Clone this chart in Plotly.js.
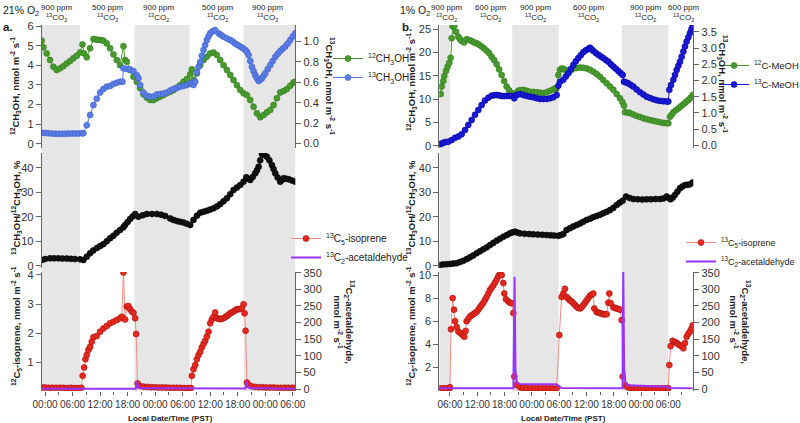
<!DOCTYPE html>
<html><head><meta charset="utf-8">
<script src="https://cdn.plot.ly/plotly-3.0.1.min.js"></script>
<style>html,body{margin:0;padding:0;background:#fff;overflow:hidden;width:800px;height:423px}#chart{width:840px;height:423px}</style>
</head><body><div id="chart"></div>
<script>
// ---------- Panel a (21% O2): hours relative to day-0 00:00 ----------
const aT_m12 = [-0.73,-0.36,0.36,1.09,1.82,2.55,3.27,4.0,4.73,5.45,6.18,6.91,7.64,8.15,8.51,9.09,9.82,10.55,11.1,11.64,12.2,12.73,13.45,14.18,14.91,15.64,16.36,17.09,17.45,17.82,18.55,19.27,20.0,20.73,21.45,22.18,22.91,23.64,24.36,25.09,25.8,26.55,27.3,28.0,28.7,29.45,30.18,30.91,31.64,32.0,32.36,33.09,33.82,34.55,35.27,36.0,36.73,37.45,38.18,38.91,39.64,40.36,41.09,41.82,42.55,43.27,44.0,44.73,45.45,46.18,46.91,47.64,48.36,49.09,49.82,50.55,51.27,52.0,52.73,53.45,54.18,54.55];
const aY_m12 = [5.26,4.92,4.61,4.27,3.93,3.76,3.85,3.96,4.10,4.22,4.36,4.49,4.66,5.07,4.61,4.41,4.87,5.34,5.32,5.30,5.29,5.26,5.12,4.87,4.56,4.27,4.01,4.98,4.27,4.18,3.76,3.42,3.16,2.83,2.52,2.35,2.23,2.23,2.32,2.40,2.48,2.57,2.65,2.74,2.86,2.99,3.16,3.30,3.54,3.80,3.25,3.59,4.01,4.27,4.44,4.61,4.66,4.53,4.27,4.01,3.76,3.51,3.25,2.99,2.74,2.57,2.48,2.23,1.89,1.55,1.35,1.46,1.60,1.72,1.97,2.32,2.62,2.69,2.79,2.96,3.13,3.16];
const aT_m13 = [-0.73,0.0,0.73,1.45,2.18,2.9,3.64,4.36,5.09,5.82,6.55,7.27,8.0,8.36,9.09,9.82,10.55,11.27,12.0,12.73,13.45,14.18,14.91,15.64,16.36,16.87,17.09,17.82,18.55,19.27,20.0,20.36,20.73,21.45,22.18,22.91,23.64,24.36,25.09,25.8,26.55,27.3,28.0,28.7,29.45,30.18,30.91,31.64,32.0,32.36,32.73,33.09,33.45,33.82,34.18,34.55,34.91,35.27,35.64,36.0,36.55,37.09,37.82,38.36,38.91,39.64,40.36,40.9,41.45,42.0,42.55,43.1,43.64,44.0,44.36,44.73,45.09,45.45,45.82,46.18,46.55,46.91,47.27,47.64,48.0,48.55,49.09,49.64,50.18,50.73,51.27,51.82,52.36,52.9,53.45,54.0,54.55];
const aY_m13 = [0.105,0.103,0.10,0.098,0.096,0.095,0.095,0.096,0.097,0.097,0.098,0.098,0.10,0.10,0.18,0.28,0.377,0.44,0.50,0.534,0.557,0.564,0.583,0.596,0.606,0.606,0.737,0.73,0.727,0.71,0.67,0.64,0.574,0.50,0.469,0.459,0.46,0.48,0.485,0.49,0.50,0.52,0.534,0.545,0.557,0.565,0.574,0.585,0.59,0.574,0.606,0.70,0.75,0.80,0.86,0.917,0.965,1.015,1.05,1.08,1.10,1.113,1.08,1.065,1.047,1.03,1.015,1.0,0.98,0.965,0.95,0.935,0.917,0.9,0.868,0.81,0.753,0.71,0.672,0.64,0.613,0.625,0.64,0.665,0.688,0.73,0.77,0.81,0.85,0.88,0.907,0.93,0.95,0.98,1.015,1.05,1.08];
const aT_rat = [-0.73,0.0,1.09,2.0,2.9,3.8,4.73,5.6,6.5,7.64,8.36,9.1,9.82,10.5,11.3,12.0,12.7,13.45,14.18,14.9,15.6,16.36,17.09,17.45,18.0,18.55,19.1,19.64,20.36,21.3,22.18,23.3,24.36,25.3,26.18,27.27,28.0,28.73,29.45,30.18,30.9,31.64,32.36,33.1,33.82,34.55,35.27,36.0,36.73,37.45,38.18,38.9,39.64,40.36,41.09,41.82,42.55,43.27,43.86,44.3,44.73,45.27,45.82,46.2,46.55,46.9,47.27,47.8,48.36,48.9,49.45,49.8,50.18,50.7,51.27,51.64,52.0,52.55,53.09,53.8,54.55];
const aY_rat = [2.3,2.7,3.0,3.0,3.0,2.9,2.9,2.8,2.7,2.6,2.3,3.7,5.1,6.2,7.2,8.0,8.8,10.0,11.2,12.2,13.4,14.6,15.7,16.6,17.8,19.1,20.1,21.1,20.0,20.6,21.1,21.1,21.1,20.8,20.3,19.3,18.7,18.2,17.9,17.6,17.1,16.6,18.7,20.4,21.6,22.0,22.4,22.9,23.4,24.2,25.1,26.3,27.5,29.2,30.9,31.9,32.9,34.3,36.1,35.5,35.0,36.2,37.7,39.0,40.4,43.0,45.6,45.2,44.5,43.0,41.1,39.5,37.7,36.0,34.3,35.0,35.7,35.5,35.3,34.8,34.3];
const aT_iso = [-0.73,0.0,0.8,1.6,2.4,3.2,4.0,4.8,5.6,6.4,7.2,7.9,8.2,8.51,8.8,9.09,9.45,9.82,10.18,10.55,11.27,12.0,12.73,13.45,14.18,14.91,15.64,16.36,16.73,17.09,17.45,17.82,18.18,18.55,18.91,19.27,19.64,19.85,20.15,20.7,21.5,22.3,23.1,23.9,24.7,25.5,26.3,27.1,27.9,28.7,29.5,30.3,31.1,31.8,32.0,32.36,32.73,33.09,33.45,33.82,34.18,34.55,34.91,35.27,35.64,36.0,36.36,36.73,37.09,37.45,37.8,38.18,38.5,38.91,39.3,39.64,40.0,40.36,40.7,41.09,41.45,41.82,42.2,42.55,42.91,43.27,43.49,43.71,44.0,44.36,45.0,45.8,46.6,47.4,48.2,49.0,49.8,50.6,51.4,52.2,53.0,53.8,54.55];
const aY_iso = [0.13,0.13,0.12,0.12,0.12,0.12,0.12,0.11,0.12,0.11,0.11,0.12,0.53,0.82,1.10,1.25,1.42,1.53,1.70,1.86,1.90,2.05,2.16,2.24,2.34,2.39,2.45,2.51,2.56,4.08,2.47,2.91,2.93,2.82,2.74,2.70,2.51,1.97,0.27,0.18,0.16,0.15,0.14,0.14,0.13,0.13,0.13,0.12,0.12,0.12,0.12,0.11,0.11,0.11,0.53,0.76,0.90,1.10,1.25,1.36,1.51,1.63,1.74,1.88,2.05,2.34,2.47,2.56,2.71,2.51,2.50,2.48,2.49,2.51,2.55,2.59,2.63,2.68,2.71,2.74,2.78,2.82,2.82,2.83,2.85,2.99,2.68,2.08,0.30,0.22,0.17,0.15,0.14,0.14,0.13,0.13,0.13,0.12,0.12,0.12,0.12,0.12,0.12];
const aT_ace = [-0.73,19.8,19.95,20.2,20.5,21.0,43.7,43.86,44.1,44.4,45.0,54.55];
const aY_ace = [1,1,22,10,4,2,1.5,25,10,4,2,1];
const aDark = [[-0.73,7.64],[19.49,31.5],[43.27,54.55]];

// ---------- Panel b (1% O2) ----------
const bT_m12 = [3.95,4.17,4.53,4.75,5.12,5.49,5.85,6.15,6.37,6.59,6.95,7.32,7.83,8.2,8.57,9.08,9.66,10.2,10.76,11.3,11.86,12.4,12.96,13.5,14.06,14.6,15.16,15.7,16.26,16.8,17.36,17.9,18.46,19.0,19.56,20.29,20.66,21.02,21.39,22.12,22.86,23.59,24.32,25.06,25.79,26.52,27.25,27.99,28.72,29.09,29.45,29.82,30.19,30.56,30.92,31.3,31.66,32.02,32.6,33.12,33.85,34.59,35.3,36.05,36.8,37.52,38.25,38.98,39.7,40.45,41.2,41.92,42.65,43.38,43.9,44.26,44.48,45.2,45.58,46.3,47.05,47.8,48.51,49.25,49.98,50.7,51.44,52.2,52.91,53.6,54.01,54.38,54.75,55.11,55.66,56.21,56.76,57.31,57.86,58.41,58.9,59.36];
const bY_m12 = [11.1,12.7,13.9,15.0,16.1,17.0,17.8,18.9,23.1,25.6,25.8,24.5,23.4,22.9,22.5,22.2,22.9,22.7,22.5,22.2,22.0,21.7,21.3,20.9,20.4,19.9,19.1,18.4,17.5,16.4,15.2,13.9,12.7,11.9,11.3,10.9,11.3,11.8,11.9,12.0,11.8,11.6,11.55,11.5,11.4,11.3,11.5,11.8,12.1,12.3,12.4,15.2,16.3,16.6,16.5,16.3,16.1,15.8,16.2,16.6,16.7,16.8,16.75,16.6,16.3,15.9,15.4,14.8,14.1,13.4,12.7,12.0,11.1,10.2,9.4,8.6,7.2,7.1,7.0,6.7,6.4,6.15,5.9,5.7,5.5,5.35,5.2,5.05,4.9,4.85,4.8,6.2,6.7,7.2,7.6,8.0,8.45,8.9,9.35,9.8,10.3,10.9];
const bT_m13 = [3.65,4.1,4.53,5.0,5.63,6.37,7.1,7.83,8.57,9.3,10.03,10.76,11.5,12.23,12.96,13.7,14.43,15.16,15.7,16.26,16.8,17.36,17.9,18.46,19.0,19.56,20.14,20.66,21.39,22.12,22.86,23.59,24.32,25.06,25.79,26.52,27.25,27.99,28.72,29.45,29.82,30.19,30.92,31.47,32.02,32.57,33.12,33.67,34.22,34.77,35.32,35.87,36.42,36.79,37.15,37.52,38.07,38.62,39.17,39.72,40.27,40.82,41.37,41.92,42.47,43.02,43.5,43.97,44.26,44.7,45.21,45.76,46.31,47.05,47.78,48.51,49.25,49.98,50.71,51.44,52.18,52.91,53.64,54.0,54.23,54.6,55.11,55.48,55.84,56.21,56.57,56.94,57.31,57.67,58.04,58.41,58.77,59.1,59.36];
const bY_m13 = [0.03,0.05,0.08,0.10,0.11,0.16,0.23,0.27,0.34,0.47,0.63,0.78,0.94,1.09,1.24,1.38,1.47,1.53,1.545,1.55,1.54,1.52,1.52,1.52,1.52,1.52,1.45,1.55,1.58,1.55,1.52,1.50,1.48,1.455,1.43,1.43,1.43,1.45,1.48,1.55,1.84,1.96,2.02,2.12,2.22,2.35,2.48,2.59,2.69,2.78,2.87,2.93,2.97,3.01,2.96,2.91,2.85,2.79,2.74,2.69,2.63,2.58,2.50,2.43,2.36,2.29,2.23,2.17,1.96,1.94,1.91,1.86,1.81,1.72,1.64,1.57,1.50,1.46,1.42,1.39,1.37,1.36,1.35,1.35,1.71,1.86,2.02,2.17,2.32,2.45,2.58,2.73,2.89,3.05,3.20,3.33,3.46,3.58,3.69];
const bT_rat = [3.65,4.4,5.2,6.0,6.7,7.46,8.2,8.93,9.7,10.4,11.1,11.86,12.6,13.33,14.1,14.8,15.5,16.26,17.0,17.73,18.5,19.19,19.7,20.29,20.8,21.39,22.4,23.4,24.32,25.3,26.3,27.25,28.1,28.9,29.82,30.4,30.92,31.65,32.4,33.1,33.85,34.6,35.3,36.05,36.8,37.5,38.25,39.0,39.7,40.45,41.2,41.9,42.65,43.3,43.96,44.7,45.5,46.31,47.3,48.3,49.24,50.2,51.2,52.17,52.9,53.64,54.1,54.52,55.0,55.47,56.0,56.57,57.1,57.67,58.2,58.77,59.36];
const bY_rat = [0.3,0.5,0.6,0.7,0.85,1.0,1.5,2.0,2.7,3.4,4.2,5.1,5.9,6.7,7.5,8.4,9.3,10.2,11.0,11.8,12.5,13.2,13.6,13.9,13.5,13.2,13.0,12.9,12.8,12.7,12.6,12.5,12.4,12.3,12.2,12.5,12.9,14.6,15.3,16.0,16.6,17.2,17.9,18.7,19.2,19.8,20.3,20.8,21.4,22.0,22.7,23.6,24.8,25.7,26.5,28.2,27.6,27.2,27.1,27.0,27.1,27.1,27.2,27.2,27.4,28.2,27.6,27.1,27.8,28.9,30.2,31.6,32.3,32.9,33.0,33.2,34.0];
const bT_iso = [3.65,4.4,5.1,5.85,6.0,6.22,6.59,6.88,7.1,7.47,7.83,8.34,8.78,9.15,9.44,9.66,10.03,10.4,10.76,11.13,11.5,11.86,12.23,12.6,12.96,13.33,13.7,14.06,14.43,14.8,15.16,15.53,15.9,16.26,16.63,16.99,17.36,17.72,17.94,18.31,18.83,19.2,19.56,19.92,20.14,20.66,21.39,22.1,22.9,23.7,24.5,25.3,26.1,26.9,27.7,28.5,29.45,30.04,30.55,30.92,31.28,31.65,32.0,32.38,32.75,33.12,33.5,33.85,34.2,34.58,34.95,35.32,35.7,36.05,36.4,36.78,37.15,37.51,37.73,38.25,38.6,38.98,39.35,39.71,40.1,40.45,40.81,41.03,41.33,41.91,42.3,42.64,43.0,43.38,43.74,43.96,44.48,45.0,45.58,46.3,47.1,47.9,48.7,49.5,50.3,51.1,51.9,52.7,53.5,54.0,54.22,54.52,54.96,55.47,55.85,56.2,56.6,56.93,57.3,57.67,58.04,58.4,58.77,59.1,59.36];
const bY_iso = [0.18,0.18,0.18,0.18,0.27,5.3,8.0,7.0,6.0,5.5,5.1,4.95,4.8,4.65,5.15,6.0,6.2,6.4,6.5,6.6,6.7,6.8,7.0,7.2,7.4,7.6,7.85,8.1,8.4,8.7,8.9,9.1,9.35,9.6,9.9,10.1,10.0,9.3,8.4,7.9,7.7,7.6,7.55,6.7,1.2,0.47,0.27,0.22,0.2,0.19,0.19,0.18,0.18,0.18,0.18,0.18,0.18,4.8,8.1,8.4,8.8,8.1,7.95,7.8,7.7,7.55,7.4,7.25,7.15,7.1,7.2,7.4,7.6,7.8,8.0,8.2,8.3,8.4,7.1,6.8,6.75,6.7,6.65,6.6,6.6,6.6,7.6,8.4,7.55,7.2,7.15,7.1,7.05,7.0,6.1,1.2,0.47,0.3,0.22,0.2,0.19,0.19,0.18,0.18,0.18,0.18,0.18,0.18,0.18,0.18,2.2,3.85,4.3,4.2,4.1,4.0,3.9,3.85,3.65,4.1,4.65,4.9,5.1,5.35,5.65];
const bT_ace = [3.65,19.95,20.2,20.4,20.6,20.9,21.5,29.4,30.0,30.5,43.95,44.1,44.3,44.55,45.0,48.0,53.5,54.2,59.36];
const bY_ace = [2,2,338,60,27,17,15,14,9,3,2,360,60,22,11,9,7,3,2];
const bDark = [[3.65,6.0],[19.7,29.9],[43.8,54.0]];

const headA = ['900','500','900','500','900'];
const headB = ['900','600','900','600','900','600'];

// ---------- helpers ----------
const HR = 3600000;
const BASE_A = Date.UTC(2021,5,2), BASE_B = Date.UTC(2021,5,9);
const toT = (base, hs) => hs.map(h => base + h*HR);
const W = 840, H = 423;   // canvas a bit wider than the 800px view so the right legends are not pushed inwards
const px = v => v / W, py = v => 1 - v / H;

const GREEN = '#4a9b2f', GREEN_D = '#2c7a18';
const BLUE_A = '#5a7ee2', BLUE_A_D = '#3a5ccc';
const BLUE_B = '#1a1ad6', BLUE_B_D = '#0000a0';
const RED = '#e8291d', RED_D = '#a51010', RED_L = '#f38a85';
const PURP = '#9b33ff';

function mk(x, y, xa, ya, color, lineColor, edge, size, name, legend, show) {
  return {x, y, xaxis: xa, yaxis: ya, type: 'scatter', mode: 'lines+markers', name,
    legend, showlegend: show,
    line: {color: lineColor, width: 1},
    marker: {color, size, line: {color: edge, width: 0.6}}};
}
const traces = [
  mk(toT(BASE_A,aT_m12), aY_m12, 'x','y', GREEN, GREEN, GREEN_D, 6, '<sup>12</sup>CH<sub>3</sub>OH', 'legend', true),
  mk(toT(BASE_A,aT_m13), aY_m13, 'x','y2', BLUE_A, BLUE_A, BLUE_A_D, 6, '<sup>13</sup>CH<sub>3</sub>OH', 'legend', true),
  mk(toT(BASE_A,aT_rat), aY_rat, 'x','y3', '#111', '#111', '#000', 6, 'ratio a', 'legend', false),
  mk(toT(BASE_A,aT_iso), aY_iso, 'x','y4', RED, RED_L, RED_D, 6, '<sup>13</sup>C<sub>5</sub>-isoprene', 'legend2', true),
  {x: toT(BASE_A,aT_ace), y: aY_ace, xaxis:'x', yaxis:'y5', type:'scatter', mode:'lines', name:'<sup>13</sup>C<sub>2</sub>-acetaldehyde', legend:'legend2', line:{color:PURP, width:2}},
  mk(toT(BASE_B,bT_m12), bY_m12, 'x2','y6', GREEN, GREEN, GREEN_D, 6, '<sup>12</sup>C-MeOH', 'legend3', true),
  mk(toT(BASE_B,bT_m13), bY_m13, 'x2','y7', BLUE_B, BLUE_B, BLUE_B_D, 6, '<sup>13</sup>C-MeOH', 'legend3', true),
  mk(toT(BASE_B,bT_rat), bY_rat, 'x2','y8', '#111', '#111', '#000', 6, 'ratio b', 'legend3', false),
  mk(toT(BASE_B,bT_iso), bY_iso, 'x2','y9', RED, RED_L, RED_D, 6, '<sup>13</sup>C<sub>5</sub>-isoprene', 'legend4', true),
  {x: toT(BASE_B,bT_ace), y: bY_ace, xaxis:'x2', yaxis:'y10', type:'scatter', mode:'lines', name:'<sup>13</sup>C<sub>2</sub>-acetaldehyde', legend:'legend4', line:{color:PURP, width:2}}
];

const DOM_A = [px(41.7), px(295.3)], DOM_B = [px(439.3), px(693.3)];
const TOP = [py(148), py(25)], MID = [py(268), py(153)], BOT = [py(391), py(272)];
const AXC = '#666';
const yb = (o) => Object.assign({showgrid:false, zeroline:false, showline:true, linecolor:AXC, linewidth:1,
  ticks:'outside', ticklen:5, tickcolor:AXC, tickfont:{size:11, color:'#333'}}, o);
const xb = (o) => Object.assign({type:'date', showgrid:false, zeroline:false, showline:false,
  ticks:'outside', ticklen:4, tickcolor:AXC, tickformat:'%H:%M', dtick: 6*HR, tickangle:0,
  tickfont:{size:10, color:'#333'},
  minor:{dtick: 3*HR, ticks:'outside', ticklen:3, tickcolor:AXC}}, o);

const shapes = [];
aDark.forEach(d => shapes.push({type:'rect', xref:'x', yref:'paper', x0:BASE_A+d[0]*HR, x1:BASE_A+d[1]*HR, y0:BOT[0], y1:TOP[1], fillcolor:'#e6e6e6', line:{width:0}, layer:'below'}));
bDark.forEach(d => shapes.push({type:'rect', xref:'x2', yref:'paper', x0:BASE_B+d[0]*HR, x1:BASE_B+d[1]*HR, y0:BOT[0], y1:TOP[1], fillcolor:'#e6e6e6', line:{width:0}, layer:'below'}));

const ann = [];
const A = (text, x, y, o) => ann.push(Object.assign({text, x:px(x), y:py(y), xref:'paper', yref:'paper', showarrow:false,
  xanchor:'center', yanchor:'middle', font:{size:9.5, color:'#222'}}, o||{}));
const headTxt = p => p + ' ppm<br><sup>13</sup>CO<sub>2</sub>';
[57,107,158,217,267].forEach((x,i) => A(headTxt(headA[i]), x, 1, {yanchor:'top', font:{size:8, color:'#222'}}));
[446,490,535,588,645,683].forEach((x,i) => A(headTxt(headB[i]), x, 1, {yanchor:'top', font:{size:8, color:'#222'}}));
A('21% O<sub>2</sub>', 1, 11, {xanchor:'left', font:{size:10.5, color:'#222'}});
A('<b>a.</b>', 1, 27, {xanchor:'left', font:{size:11.5, color:'#222'}});
A('1% O<sub>2</sub>', 398, 11, {xanchor:'left', font:{size:10.5, color:'#222'}});
A('<b>b.</b>', 400, 27, {xanchor:'left', font:{size:11.5, color:'#222'}});
const TL = '<b><sup>12</sup>CH<sub>3</sub>OH, nmol m<sup>-2</sup> s<sup>-1</sup></b>';
const TR = '<b><sup>13</sup>CH<sub>3</sub>OH, nmol m<sup>-2</sup> s<sup>-1</sup></b>';
const TM = '<b><sup>13</sup>CH<sub>3</sub>OH/<sup>12</sup>CH<sub>3</sub>OH, %</b>';
const BL = '<b><sup>12</sup>C<sub>5</sub>-isoprene, nmol m<sup>-2</sup> s<sup>-1</sup></b>';
const BR = '<b><sup>13</sup>C<sub>2</sub>-acetaldehyde,<br>nmol m<sup>-2</sup> s<sup>-1</sup></b>';
A(TL, 16, 86, {textangle:-90}); A(TR, 329, 86, {textangle:90});
A(TM, 16, 208, {textangle:-90}); A(BL, 16, 326, {textangle:-90}); A(BR, 344, 322, {textangle:90});
A(TL, 411, 82, {textangle:-90}); A(TR, 723, 84, {textangle:90});
A(TM, 411, 208, {textangle:-90}); A(BL, 411, 326, {textangle:-90}); A(BR, 740, 322, {textangle:90});
A('<b>Local Date/Time (PST)</b>', 170, 418, {font:{size:8, color:'#222'}});
A('<b>Local Date/Time (PST)</b>', 563, 418, {font:{size:8, color:'#222'}});

const leg = (x, y, fs) => ({x:px(x), y:py(y), xanchor:'left', yanchor:'top', bgcolor:'rgba(0,0,0,0)', font:{size:fs, color:'#222'}, itemwidth:30, tracegroupgap:0});

const layout = {
  width: W, height: H, margin:{l:0, r:0, t:0, b:0}, paper_bgcolor:'#fff', plot_bgcolor:'rgba(0,0,0,0)',
  font:{family:'Liberation Sans, Arial, sans-serif', color:'#222'},
  xaxis: xb({domain:DOM_A, anchor:'y4', range:[BASE_A-0.73*HR, BASE_A+54.55*HR], tick0:'2021-06-02 00:00'}),
  xaxis2: xb({domain:DOM_B, anchor:'y9', range:[BASE_B+3.65*HR, BASE_B+59.5*HR], tick0:'2021-06-09 00:00'}),
  yaxis: yb({domain:TOP, anchor:'x', range:[-0.22, 6.06], dtick:1}),
  yaxis2: yb({overlaying:'y', side:'right', anchor:'x', range:[-0.044, 1.162], dtick:0.2, tickformat:'.1f'}),
  yaxis3: yb({domain:MID, anchor:'x', range:[-0.94, 46.0], dtick:10}),
  yaxis4: yb({domain:BOT, anchor:'x', range:[0.01, 4.10], tickvals:[1,2,3,4]}),
  yaxis5: yb({overlaying:'y4', side:'right', anchor:'x', range:[-6, 352], dtick:50}),
  yaxis6: yb({domain:TOP, anchor:'x2', range:[-0.5, 25.94], dtick:5}),
  yaxis7: yb({overlaying:'y6', side:'right', anchor:'x2', range:[-0.083, 3.71], dtick:0.5, tickformat:'.1f'}),
  yaxis8: yb({domain:MID, anchor:'x2', range:[-0.94, 46.0], dtick:10}),
  yaxis9: yb({domain:BOT, anchor:'x2', range:[-0.05, 10.26], tickvals:[2,4,6,8,10]}),
  yaxis10: yb({overlaying:'y9', side:'right', anchor:'x2', range:[-6, 352], dtick:50}),
  legend: leg(328, 44, 10), legend2: leg(286, 224, 10), legend3: leg(714, 51, 9.5), legend4: leg(681, 228, 9),
  shapes, annotations: ann
};
Plotly.newPlot('chart', traces, layout, {displayModeBar:false, staticPlot:true});
</script></body></html>
